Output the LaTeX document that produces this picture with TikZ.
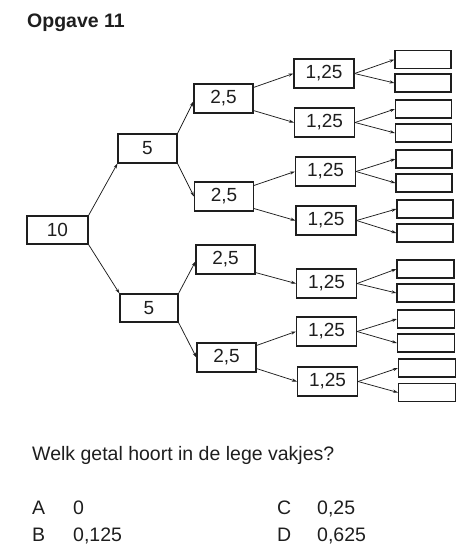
\documentclass[tikz,border=0pt]{standalone}
\usepackage{fontspec}
\setmainfont{Liberation Sans}
\usetikzlibrary{arrows.meta,calc}
\definecolor{ink}{HTML}{1E1E1E}
\tikzset{
  box/.style={draw=ink, line width=1.1pt, inner sep=0pt, minimum width=59pt, minimum height=29pt, text=ink, font=\fontsize{19}{22}\selectfont},
  blank/.style={draw=ink, line width=1.1pt, inner sep=0pt, minimum width=56pt, minimum height=18pt},
  arr/.style={draw=ink, line width=0.75pt, -{Stealth[length=5pt,width=3.2pt]}},
  txt/.style={anchor=base west, inner sep=0pt, text=ink, font=\fontsize{19.5}{22}\selectfont}
}
\begin{document}
\begin{tikzpicture}[x=1pt,y=-1pt]
\useasboundingbox (0,0) rectangle (465,558);
% title
\node[txt, font=\fontsize{19.5}{22}\bfseries] (title) at (27,27) {Opgave 11};
% tree
\node[box, minimum width=61pt, minimum height=28pt] (n10) at (57.5,230) {10};
\node[box] (a5) at (147.5,148.5) {5};
\node[box, minimum width=58pt, minimum height=28pt] (b5) at (149,308) {5};
\node[box] (c1) at (223.5,98.5) {2,5};
\node[box] (c2) at (224,196.5) {2,5};
\node[box] (c3) at (225.5,259.5) {2,5};
\node[box] (c4) at (226.5,357.5) {2,5};
\node[box, minimum width=60pt] (d1) at (324,73.5) {1,25};
\node[box, minimum width=60pt] (d2) at (324.5,122.5) {1,25};
\node[box, minimum width=60pt] (d3) at (325.5,171.5) {1,25};
\node[box, minimum width=60pt] (d4) at (326,220.5) {1,25};
\node[box, minimum width=60pt] (d5) at (326.5,283.5) {1,25};
\node[box, minimum width=60pt] (d6) at (326.5,331.5) {1,25};
\node[box, minimum width=60pt] (d7) at (327.5,381.5) {1,25};
% blanks
\node[blank] (e1) at (423,59.5) {};
\node[blank] (e2) at (423,83) {};
\node[blank] (e3) at (423.5,109) {};
\node[blank] (e4) at (423.5,133) {};
\node[blank] (e5) at (424,159) {};
\node[blank] (e6) at (424,183) {};
\node[blank] (e7) at (425,209) {};
\node[blank] (e8) at (425,233) {};
\node[blank, minimum width=57pt] (e9) at (425.5,269) {};
\node[blank, minimum width=57pt] (e10) at (425.5,293) {};
\node[blank, minimum width=57pt] (e11) at (426,319) {};
\node[blank, minimum width=57pt] (e12) at (426,343) {};
\node[blank, minimum width=57pt] (e13) at (427,368) {};
\node[blank, minimum width=57pt] (e14) at (427,392.5) {};
% connectors
\draw[arr] (n10.north east) -- (a5.south west);
\draw[arr] (n10.south east) -- (b5.north west);
\draw[arr] (a5.north east) -- ($(c1.west)+(0,3)$);
\draw[arr] (a5.south east) -- (c2.west);
\draw[arr] (b5.north east) -- ($(c3.west)+(0,2)$);
\draw[arr] (b5.south east) -- (c4.west);
\draw[arr] ($(c1.north east)+(0,4)$) -- (d1.west);
\draw[arr] ($(c1.south east)+(0,-3)$) -- (d2.west);
\draw[arr] ($(c2.north east)+(0,4)$) -- (d3.west);
\draw[arr] ($(c2.south east)+(0,-3)$) -- (d4.west);
\draw[arr] ($(c3.south east)+(0,-2)$) -- (d5.west);
\draw[arr] ($(c4.north east)+(0,3)$) -- (d6.west);
\draw[arr] ($(c4.south east)+(0,-4)$) -- (d7.west);
\foreach \d/\a/\b in {d1/e1/e2, d2/e3/e4, d3/e5/e6, d4/e7/e8, d5/e9/e10, d6/e11/e12, d7/e13/e14}{
  \draw[arr] (\d.east) -- (\a.west);
  \draw[arr] (\d.east) -- (\b.west);
}
% question
\node[txt] (q) at (32,460.7) {Welk getal hoort in de lege vakjes?};
\node[txt] (la) at (32,514) {A};
\node[txt] (va) at (73,514) {0};
\node[txt] (lb) at (32,541) {B};
\node[txt] (vb) at (73,541) {0,125};
\node[txt] (lc) at (277,514) {C};
\node[txt] (vc) at (317,514) {0,25};
\node[txt] (ld) at (277,541) {D};
\node[txt] (vd) at (317,541) {0,625};
\end{tikzpicture}
\end{document}
